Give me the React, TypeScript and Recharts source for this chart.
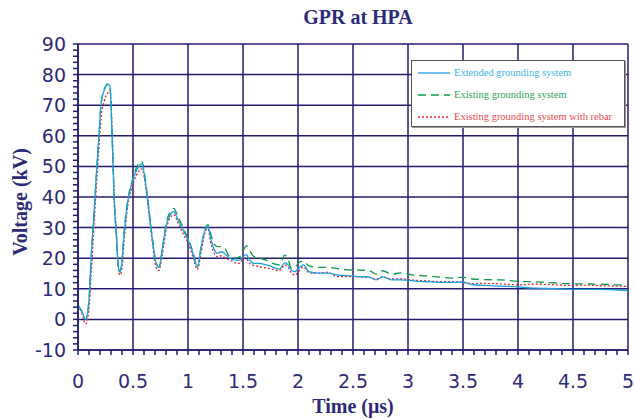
import React from 'react';
import { LineChart, Line, XAxis, YAxis, ReferenceLine } from 'recharts';

// time (µs)
const times = [
  0, 0.03, 0.07, 0.1, 0.12, 0.145, 0.17, 0.19, 0.21, 0.24,
  0.27, 0.29, 0.31, 0.33, 0.35, 0.365, 0.38, 0.395, 0.42, 0.45,
  0.49, 0.53, 0.58, 0.62, 0.65, 0.68, 0.71, 0.735, 0.77, 0.8,
  0.835, 0.87, 0.91, 0.955, 1.0, 1.045, 1.085, 1.12, 1.16, 1.18,
  1.21, 1.24, 1.27, 1.3, 1.33, 1.38, 1.43, 1.47, 1.5, 1.53,
  1.56, 1.6, 1.65, 1.71, 1.77, 1.83, 1.88, 1.91, 1.94, 1.97,
  2.02, 2.05, 2.1, 2.18, 2.27, 2.36, 2.45, 2.55, 2.65, 2.71,
  2.77, 2.85, 2.94, 3.05, 3.17, 3.29, 3.4, 3.5, 3.58, 3.7,
  3.85, 4.0, 4.15, 4.3, 4.45, 4.6, 4.75, 4.9, 5.0,
];

// Extended grounding system (kV)
const extended = [
  4.7, 3, 0, 6.5, 20.5, 34.5, 49, 60, 70.5, 75,
  76.7, 76.3, 60, 38, 27, 17.5, 15.6, 17.5, 28, 38,
  44.5, 48.5, 50.8, 43, 34, 25, 18.5, 17, 23.8, 30.3,
  34, 35.2, 32.5, 29.2, 26, 21.6, 17.2, 23.8, 29.5, 30.3,
  26, 22.7, 21.6, 22.1, 21.6, 20, 19.4, 19.4, 20.5, 21.2,
  19.4, 18.3, 18.3, 17.8, 17.2, 16.4, 18.5, 17.8, 16.1, 15.6,
  17.2, 17.8, 15.6, 15.1, 15.1, 14.5, 14.3, 14, 13.8, 12.9,
  14, 12.9, 12.9, 12.6, 12.3, 12.1, 12.1, 12.2, 11.4, 11.1,
  10.9, 10.6, 10.2, 10.1, 9.9, 9.8, 9.8, 9.6, 9.4,
];

// Existing grounding system (kV)
const existing = [
  4.7, 3, 0, 6.5, 20.5, 34.5, 49, 60, 70.5, 75.3,
  77, 76.5, 60, 38, 27, 17.5, 15.5, 17.5, 29, 38.5,
  45, 49.5, 51.6, 43.5, 34.5, 25.5, 18.5, 17, 24, 31,
  35, 36.3, 33.5, 30, 26.5, 22, 17, 24, 30, 31,
  27.5, 24.5, 23.8, 23.8, 23.4, 20.5, 20, 20.5, 22.3, 24,
  22.5, 20.5, 20, 19.4, 18.3, 17.8, 21, 19.5, 16.8, 17,
  18.9, 19, 17.5, 17, 17, 16.6, 16.2, 16.1, 15.9, 14.8,
  15.9, 14.8, 15.2, 14.5, 14.2, 13.8, 13.5, 13.8, 13.2, 13,
  12.9, 12.4, 12.3, 12, 11.7, 11.6, 11.5, 11.3, 11.2,
];

// Existing grounding system with rebar (kV)
const rebar = [
  4.5, 2.5, -1.5, 3.5, 15, 30, 45, 56, 66, 71.5,
  74, 75, 62, 40, 28, 18, 14.5, 15.5, 26, 36.5,
  43, 47, 49.2, 42, 33, 24, 17, 16, 22, 29,
  33, 34.2, 31.5, 28, 25, 20.5, 16.3, 22, 29, 29.7,
  24.5, 21.5, 20.5, 20.8, 20.3, 19.4, 18.5, 18.3, 20, 19.8,
  18.3, 17.6, 17.2, 16.8, 16.4, 15.9, 17.8, 17, 15.2, 14.5,
  16.3, 17.2, 15.2, 15.1, 15.4, 14, 14, 13.9, 13.7, 13.1,
  13.8, 13.2, 13.2, 12.8, 12.6, 12.3, 12.3, 12.1, 11.7, 11.8,
  11.6, 11.3, 11.5, 11.4, 11.1, 11.2, 11, 10.9, 10.8,
];

const xMajorTicks = [0, 0.5, 1, 1.5, 2, 2.5, 3, 3.5, 4, 4.5, 5];
const yMajorTicks = [-10, 0, 10, 20, 30, 40, 50, 60, 70, 80, 90];
const xMinorTicks = Array.from({ length: 51 }, (_, i) => Number((i * 0.1).toFixed(1)));
const yMinorTicks = Array.from({ length: 51 }, (_, i) => -10 + i * 2);

const seriesNames = [
  'Extended grounding system',
  'Existing grounding system',
  'Existing grounding system with rebar',
];

const data = times.map((t, i) => ({
  t,
  extended: extended[i],
  existing: existing[i],
  rebar: rebar[i],
}));

const NAVY = '#221b6e';
const TEXT = '#2d2a78';
const BLUE = '#1ba0e2';
const GREEN = '#0d9a48';
const RED = '#e5242c';
const TICK_FONT = '"DejaVu Sans", sans-serif';
const SERIF = '"Liberation Serif", "Times New Roman", serif';

const isIn = (arr: number[], v: number) => arr.some((m) => Math.abs(m - v) < 1e-6);

const XTick = (props: any) => {
  const { x, y, payload } = props;
  if (!isIn(xMajorTicks, payload.value)) return <g />;
  return (
    <text x={x} y={y} dy={31} textAnchor="middle" fill={TEXT} fontSize={19} fontFamily={TICK_FONT}>
      {String(payload.value)}
    </text>
  );
};

const YTick = (props: any) => {
  const { x, y, payload } = props;
  if (!isIn(yMajorTicks, payload.value)) return <g />;
  return (
    <text x={x} y={y} dy={7} textAnchor="end" fill={TEXT} fontSize={19} fontFamily={TICK_FONT}>
      {String(payload.value)}
    </text>
  );
};

const legendItems = [
  { name: seriesNames[0], color: BLUE, text: '#3cb4ee', dash: undefined as string | undefined },
  { name: seriesNames[1], color: GREEN, text: '#2ea35c', dash: '8 5' },
  { name: seriesNames[2], color: RED, text: '#e84a50', dash: '2 2' },
];

export default function App() {
  return (
    <div style={{ position: 'absolute', left: 0, top: 0, width: 634, height: 419, background: '#fff' }}>
      <LineChart
        width={634}
        height={419}
        data={data}
        margin={{ top: 44, right: 6, bottom: 0, left: 0 }}
      >
        <XAxis
          dataKey="t"
          type="number"
          domain={[0, 5]}
          ticks={xMinorTicks}
          interval={0}
          tick={XTick}
          tickSize={5}
          tickMargin={2}
          height={69}
          stroke={NAVY}
          strokeWidth={1.5}
          allowDataOverflow
        />
        <YAxis
          type="number"
          domain={[-10, 90]}
          ticks={yMinorTicks}
          interval={0}
          tick={YTick}
          tickSize={5}
          tickMargin={7}
          width={78}
          stroke={NAVY}
          strokeWidth={1.5}
          allowDataOverflow
        />
        {xMajorTicks.map((v) => (
          <ReferenceLine key={'vx' + v} x={v} stroke={NAVY} strokeWidth={1.5} ifOverflow="extendDomain" />
        ))}
        {yMajorTicks.map((v) => (
          <ReferenceLine key={'hy' + v} y={v} stroke={NAVY} strokeWidth={1.5} ifOverflow="extendDomain" />
        ))}
        <Line
          type="monotone"
          dataKey="rebar"
          name={seriesNames[2]}
          stroke={RED}
          strokeWidth={1.3}
          strokeDasharray="2 2"
          dot={false}
          isAnimationActive={false}
        />
        <Line
          type="monotone"
          dataKey="existing"
          name={seriesNames[1]}
          stroke={GREEN}
          strokeWidth={1.3}
          strokeDasharray="8 5"
          dot={false}
          isAnimationActive={false}
        />
        <Line
          type="monotone"
          dataKey="extended"
          name={seriesNames[0]}
          stroke={BLUE}
          strokeWidth={1.3}
          dot={false}
          isAnimationActive={false}
        />
        <text x={358} y={24} textAnchor="middle" fill={TEXT} fontSize={20} fontWeight="bold" fontFamily={SERIF}>
          GPR at HPA
        </text>
        <text
          x={0}
          y={0}
          transform="translate(27,202) rotate(-90)"
          textAnchor="middle"
          fill={TEXT}
          fontSize={20}
          fontWeight="bold"
          fontFamily={SERIF}
        >
          Voltage (kV)
        </text>
        <text x={353} y={413} textAnchor="middle" fill={TEXT} fontSize={20} fontWeight="bold" fontFamily={SERIF}>
          Time (μs)
        </text>
      </LineChart>
      <div
        style={{
          position: 'absolute',
          left: 411,
          top: 60,
          width: 214,
          height: 67,
          background: '#fff',
          border: '1px solid #555',
          boxShadow: '1px 1px 0 #999',
          boxSizing: 'border-box',
        }}
      >
        {legendItems.map((it, i) => (
          <div
            key={it.name}
            style={{
              position: 'absolute',
              left: 6,
              top: 5 + i * 22,
              height: 14,
              display: 'flex',
              alignItems: 'center',
              whiteSpace: 'nowrap',
            }}
          >
            <svg width={33} height={6} style={{ display: 'block' }}>
              <line x1={0} y1={3} x2={32} y2={3} stroke={it.color} strokeWidth={1.3} strokeDasharray={it.dash} />
            </svg>
            <span
              style={{
                marginLeft: 3,
                fontFamily: SERIF,
                fontSize: 10.5,
                color: it.text,
                lineHeight: '14px',
              }}
            >
              {it.name}
            </span>
          </div>
        ))}
      </div>
    </div>
  );
}
